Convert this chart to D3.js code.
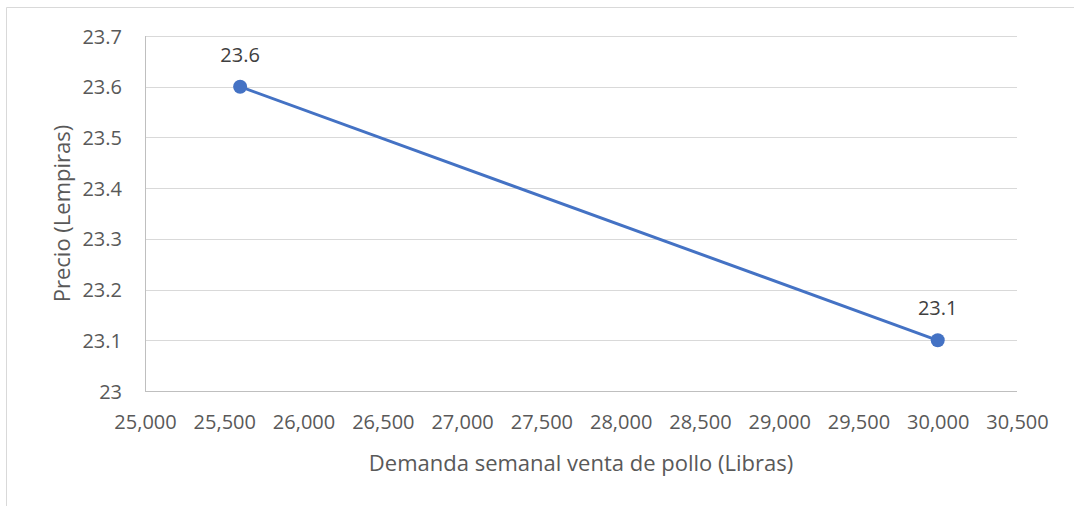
<!DOCTYPE html>
<html><head><meta charset="utf-8">
<script src="https://cdn.jsdelivr.net/npm/d3@7"></script>
<style>body{margin:0;background:#fff}svg{display:block}text{font-family:"Open Sans","Noto Sans",sans-serif}</style>
</head><body>
<svg id="c" width="1074" height="506"></svg>
<script>
const demand = [25600, 30000];
const price = [23.6, 23.1];
const labels = ["23.6", "23.1"];
const xTicks = [25000,25500,26000,26500,27000,27500,28000,28500,29000,29500,30000,30500];
const yTicks = [23,23.1,23.2,23.3,23.4,23.5,23.6,23.7];
const xTitle = "Demanda semanal venta de pollo (Libras)";
const yTitle = "Precio (Lempiras)";

const svg = d3.select("#c");
const L=145, R=1017, T=36, B=391;
const x = d3.scaleLinear().domain([25000,30500]).range([L,R]);
const y = d3.scaleLinear().domain([23,23.7]).range([B,T]);
const txt = "#595959";

// outer border
svg.append("path").attr("d","M6.5,520 L6.5,7.5 L1080,7.5").attr("fill","none").attr("stroke","#d9d9d9").attr("stroke-width",1);

// grid
svg.append("g").selectAll("line").data(yTicks).join("line")
  .attr("x1",L).attr("x2",R).attr("y1",d=>Math.round(y(d))+0.5).attr("y2",d=>Math.round(y(d))+0.5)
  .attr("stroke",d=>d===23?"#bfbfbf":"#d9d9d9").attr("stroke-width",1);
// y axis line
svg.append("line").attr("x1",L+0.5).attr("x2",L+0.5).attr("y1",T).attr("y2",B+0.5).attr("stroke","#bfbfbf");

const fmt = d3.format(",");
const xAxis = d3.axisBottom(x).tickValues(xTicks).tickFormat(fmt).tickSize(0).tickPadding(0);
const gx = svg.append("g").attr("transform",`translate(0,422)`).call(xAxis);
gx.select(".domain").remove();
gx.selectAll("text").attr("fill",txt).attr("font-size","20px").attr("dy","0.35em").attr("y",0);

const yAxis = d3.axisLeft(y).tickValues(yTicks).tickFormat(d=>String(+d.toFixed(1))).tickSize(0).tickPadding(0);
const gy = svg.append("g").attr("transform",`translate(122,0)`).call(yAxis);
gy.select(".domain").remove();
gy.selectAll("text").attr("fill",txt).attr("font-size","20px").attr("dy","0.35em");

// titles
svg.append("text").attr("x",(L+R)/2).attr("y",463).attr("dy","0.35em").attr("text-anchor","middle")
  .attr("fill",txt).attr("font-size","22px").text(xTitle);
svg.append("text").attr("transform",`translate(62,${(T+B)/2}) rotate(-90)`).attr("dy","0.35em").attr("text-anchor","middle")
  .attr("fill",txt).attr("font-size","22px").text(yTitle);

// line
const pts = demand.map((d,i)=>[d,price[i],labels[i]]);
svg.append("path").datum(pts).attr("fill","none").attr("stroke","#4472C4").attr("stroke-width",3)
  .attr("d",d3.line().x(d=>x(d[0])).y(d=>y(d[1])));
svg.selectAll("circle.p").data(pts).join("circle").attr("class","p")
  .attr("cx",d=>x(d[0])).attr("cy",d=>y(d[1])).attr("r",7).attr("fill","#4472C4");
svg.selectAll("text.lbl").data(pts).join("text").attr("class","lbl")
  .attr("x",d=>x(d[0])).attr("y",d=>y(d[1])-32).attr("dy","0.35em").attr("text-anchor","middle")
  .attr("fill","#404040").attr("font-size","20px").text(d=>d[2]);
</script>
</body></html>
